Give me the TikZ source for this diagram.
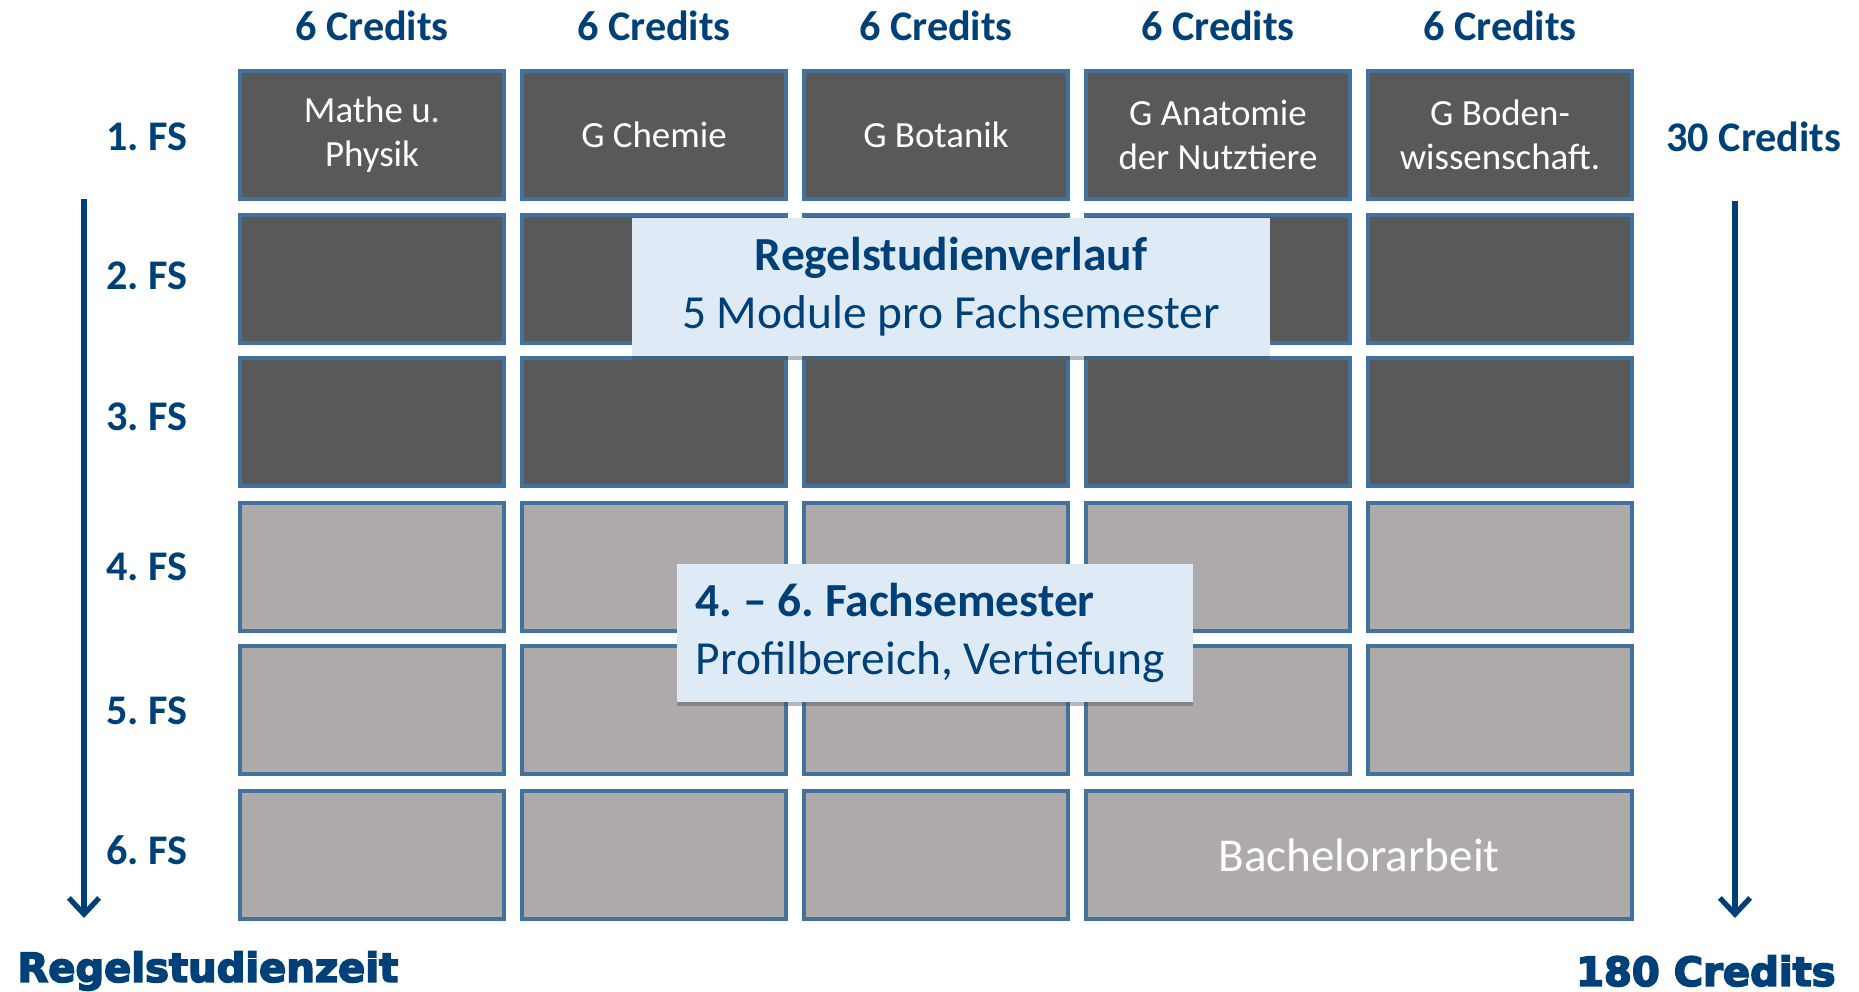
\documentclass[tikz,border=0pt]{standalone}
\usepackage{fontspec}
\setmainfont{Carlito}
\newfontfamily\heavyfont{DejaVu Sans}[BoldFeatures={FakeBold=4}]
\usetikzlibrary{arrows.meta,shadows}
\frenchspacing

\definecolor{fsblue}{HTML}{004079}
\definecolor{rimblue}{HTML}{41719C}
\definecolor{darkmod}{HTML}{595959}
\definecolor{lightmod}{HTML}{AEAAAA}
\definecolor{notefill}{HTML}{DEEBF7}

\tikzset{
    module/.style={draw=rimblue, line width=1.1pt, minimum width=2.63cm, minimum height=1.28cm,
        text=white, align=center, font=\fontsize{10.5}{12.6}\selectfont},
    early/.style={module, fill=darkmod},
    late/.style={module, fill=lightmod},
    credit/.style={text=fsblue, font=\fontsize{12}{14}\selectfont\bfseries},
    semester/.style={text=fsblue, font=\fontsize{12}{14}\selectfont\bfseries},
    bigword/.style={text=fsblue, font=\fontsize{11.4}{13}\selectfont\heavyfont\bfseries},
    note/.style={fill=notefill, text=fsblue, minimum height=1.37cm,
        font=\fontsize{13.5}{16.4}\selectfont,
        drop shadow={shadow xshift=0pt, shadow yshift=-1.2pt, opacity=0.4, fill=black!70}},
    timeline/.style={fsblue, line width=1.5pt, -{Straight Barb[length=4.6pt, width=8.6pt]}}
}

\begin{document}
\begin{tikzpicture}[x=0.01cm, y=-0.01cm]
        \useasboundingbox (0,0) rectangle (1859,992);

        % credits per module
        \node[credit] (c1) at (372,26) {6 Credits};
        \node[credit] (c2) at (654,26) {6 Credits};
        \node[credit] (c3) at (936,26) {6 Credits};
        \node[credit] (c4) at (1218,26) {6 Credits};
        \node[credit] (c5) at (1500,26) {6 Credits};

        % semesters
        \node[semester] (fs1) at (147,137) {1. FS};
        \node[semester] (fs2) at (147,276) {2. FS};
        \node[semester] (fs3) at (147,417) {3. FS};
        \node[semester] (fs4) at (147,567) {4. FS};
        \node[semester] (fs5) at (147,711) {5. FS};
        \node[semester] (fs6) at (147,850) {6. FS};

        % 1. - 3. FS
        \node[early] (m11) at (372,135) {Mathe u.\\Physik};
        \node[early] (m12) at (654,135) {G Chemie};
        \node[early] (m13) at (936,135) {G Botanik};
        \node[early] (m14) at (1218,135) {G Anatomie\\der Nutztiere};
        \node[early] (m15) at (1500,135) {G Boden-\\wissenschaft.};

        \node[early] (m21) at (372,279) {};
        \node[early] (m22) at (654,279) {};
        \node[early] (m23) at (936,279) {};
        \node[early] (m24) at (1218,279) {};
        \node[early] (m25) at (1500,279) {};

        \node[early] (m31) at (372,422) {};
        \node[early] (m32) at (654,422) {};
        \node[early] (m33) at (936,422) {};
        \node[early] (m34) at (1218,422) {};
        \node[early] (m35) at (1500,422) {};

        % 4. - 6. FS
        \node[late] (m41) at (372,567) {};
        \node[late] (m42) at (654,567) {};
        \node[late] (m43) at (936,567) {};
        \node[late] (m44) at (1218,567) {};
        \node[late] (m45) at (1500,567) {};

        \node[late] (m51) at (372,710) {};
        \node[late] (m52) at (654,710) {};
        \node[late] (m53) at (936,710) {};
        \node[late] (m54) at (1218,710) {};
        \node[late] (m55) at (1500,710) {};

        \node[late] (m61) at (372,855) {};
        \node[late] (m62) at (654,855) {};
        \node[late] (m63) at (936,855) {};
        \node[late, minimum width=5.45cm, font=\fontsize{13.4}{16}\selectfont] (thesis) at (1359,855) {Bachelorarbeit};

        % notes
        \node[note, minimum width=6.37cm, align=center] (plan) at (951,287)
            {\textbf{Regelstudienverlauf}\\5 Module pro Fachsemester};
        \node[note, inner xsep=0.19cm, text width=4.78cm, align=flush left] (profil) at (935,633)
            {\textbf{4. -- 6. Fachsemester}\\Profilbereich, Vertiefung};

        % time and credits
        \node[credit] (total) at (1754,137) {30 Credits};
        \coordinate (lt) at (84,199);
        \coordinate (lb) at (84,918);
        \coordinate (rt) at (1735,201);
        \coordinate (rb) at (1735,918);
        \draw[timeline] (lt) -- (lb);
        \draw[timeline] (rt) -- (rb);

        \node[bigword, anchor=west] (zeit) at (5,971) {Regelstudienzeit};
        \node[bigword, anchor=east] (sum) at (1848,971) {180 Credits};
    \end{tikzpicture}
\end{document}
